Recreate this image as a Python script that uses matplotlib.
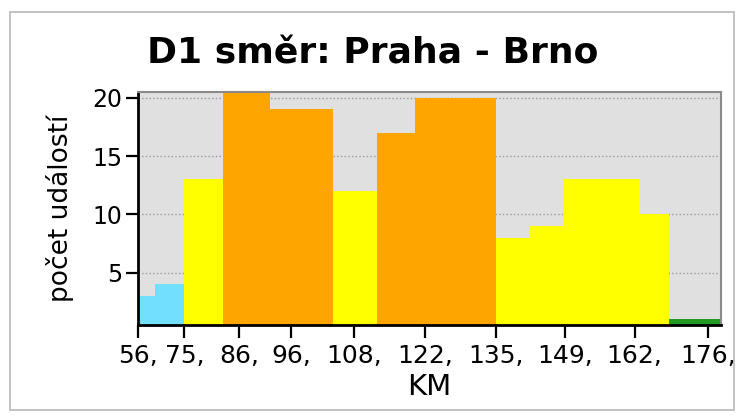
import numpy as np
import matplotlib
matplotlib.use("Agg")
from matplotlib import pyplot as plt
from matplotlib.patches import Rectangle

plt.rcParams['font.family'] = ['DejaVu Sans']

# segment edges along the motorway (km) and number of events per segment
edges_km = [56, 63, 75, 82.7, 92, 104, 112.5, 120, 135, 142, 148.5, 163, 168.5, 178.5]
counts = [3, 4, 13, 21, 19, 12, 17, 20, 8, 9, 13, 10, 1]
bar_colors = ['#73dfff', '#73dfff', '#ffff00', '#ffa500', '#ffa500', '#ffff00',
              '#ffa500', '#ffa500', '#ffff00', '#ffff00', '#ffff00', '#ffff00', '#229922']

tick_km = [56, 75, 86, 96, 108, 122, 135, 149, 162, 176]
tick_labels = ['56,', '75,', '86,', '96,', '108,', '122,', '135,', '149,', '162,', '176,']
y_ticks = [5, 10, 15, 20]

# the km axis is not linear in the original: map km -> screen position piecewise
scale_km = [40] + tick_km + [200]
scale_pos = [-38.4, 0, 46.5, 101.5, 153, 216, 287.5, 358, 427.5, 497, 570.5, 695]

def fwd(x):
    return np.interp(x, scale_km, scale_pos)

def inv(p):
    return np.interp(p, scale_pos, scale_km)


fig = plt.figure(figsize=(7.36, 4.2), dpi=100)
fig.patches.append(Rectangle((10 / 736, 10 / 420), 724 / 736, 398 / 420,
                             transform=fig.transFigure, fill=False,
                             edgecolor='#b8b8b8', linewidth=1.2))

ax = fig.add_axes([138 / 736, 1 - 325 / 420, 583 / 736, 233 / 420])
ax.set_xscale('function', functions=(fwd, inv))
ax.set_facecolor('#e0e0e0')

lefts = np.array(edges_km[:-1])
widths = np.diff(edges_km)
ax.bar(lefts, counts, width=widths, align='edge', color=bar_colors,
       linewidth=0, zorder=2)

ax.set_xlim(edges_km[0], edges_km[-1])
ax.set_ylim(0.5, 20.5)
ax.set_xticks(tick_km)
ax.set_xticklabels(tick_labels)
ax.set_yticks(y_ticks)
ax.yaxis.grid(True, linestyle=':', color='#999999', linewidth=1, zorder=1)
ax.set_axisbelow(True)

ax.tick_params(axis='both', length=9, width=1.6, color='black')
ax.tick_params(axis='x', labelsize=18, pad=5)
ax.tick_params(axis='y', labelsize=17, pad=2)

for s in ['left', 'bottom']:
    ax.spines[s].set_color('black')
    ax.spines[s].set_linewidth(2)
for s in ['top', 'right']:
    ax.spines[s].set_color('#8a8a8a')
    ax.spines[s].set_linewidth(1.5)

ax.set_xlabel('KM', fontsize=21, labelpad=3)
ax.set_ylabel('počet událostí', fontsize=19)
ax.yaxis.set_label_coords(-0.11, 0.5)

fig.text(373 / 736, 1 - 53 / 420, 'D1 směr: Praha - Brno', fontsize=26,
         fontweight='bold', ha='center', va='center')

fig.savefig('out.png', dpi=100)
